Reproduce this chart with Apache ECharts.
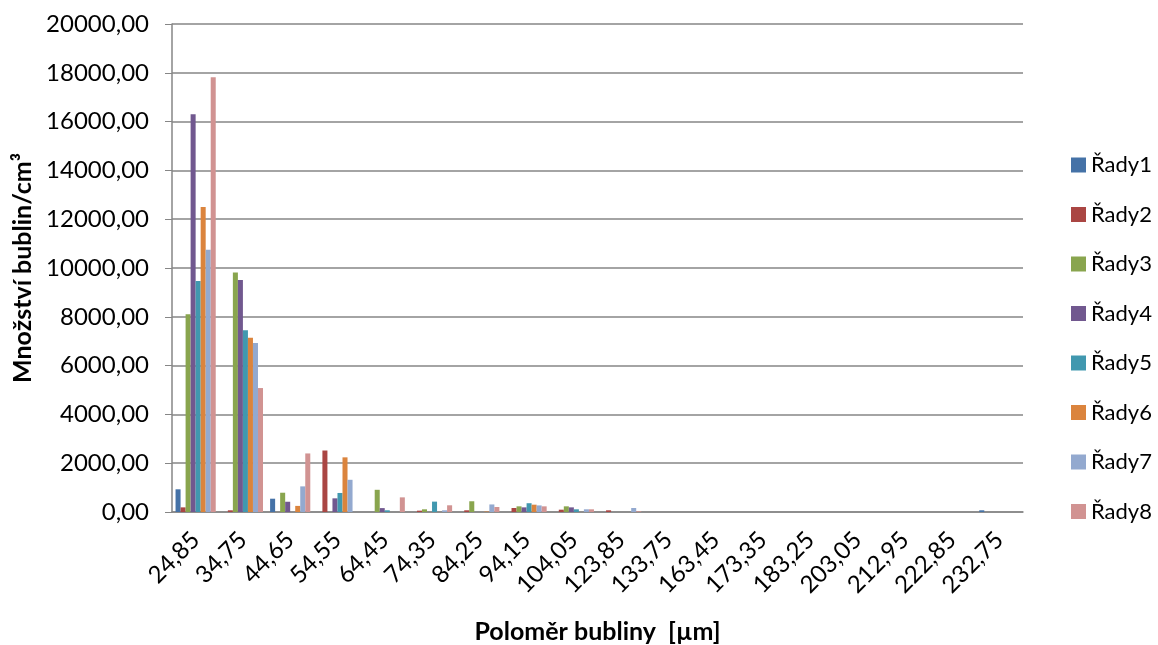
<!DOCTYPE html>
<html>
<head>
<meta charset="utf-8">
<script src="https://cdn.jsdelivr.net/npm/echarts@6/dist/echarts.min.js"></script>
<style>
  html, body { margin: 0; padding: 0; background: #fff; }
  #chart { width: 1158px; height: 645px; }
</style>
</head>
<body>
<div id="chart"></div>
<script>
  // x categories (polomer bubliny)
  var categories = ['24,85', '34,75', '44,65', '54,55', '64,45', '74,35', '84,25', '94,15', '104,05',
    '123,85', '133,75', '163,45', '173,35', '183,25', '203,05', '212,95', '222,85', '232,75'];

  var seriesNames = ['Řady1', 'Řady2', 'Řady3', 'Řady4', 'Řady5', 'Řady6', 'Řady7', 'Řady8'];

  var rady1 = [930, 0, 545, 0, 0, 0, 0, 0, 0, 0, 0, 0, 0, 0, 0, 0, 0, 70];
  var rady2 = [190, 70, 0, 2520, 0, 55, 70, 165, 95, 70, 0, 0, 0, 0, 0, 0, 0, 0];
  var rady3 = [8100, 9820, 790, 0, 910, 110, 440, 232, 232, 0, 0, 0, 0, 0, 0, 0, 0, 0];
  var rady4 = [16300, 9510, 420, 560, 160, 0, 0, 190, 190, 0, 0, 0, 0, 0, 0, 0, 0, 0];
  var rady5 = [9470, 7450, 0, 780, 70, 425, 0, 360, 110, 0, 0, 0, 0, 0, 0, 0, 0, 0];
  var rady6 = [12500, 7140, 250, 2240, 0, 0, 20, 300, 0, 0, 0, 0, 0, 0, 0, 0, 0, 0];
  var rady7 = [10750, 6930, 1050, 1320, 0, 70, 310, 270, 110, 165, 0, 0, 0, 0, 0, 0, 0, 0];
  var rady8 = [17820, 5080, 2400, 0, 600, 275, 205, 232, 110, 30, 0, 0, 0, 0, 0, 0, 0, 0];

  var colors = ['#4572A7', '#AA4643', '#89A54E', '#71588F', '#4198AF', '#DB843D', '#93A9CF', '#D19392'];

  var allData = [rady1, rady2, rady3, rady4, rady5, rady6, rady7, rady8];

  var font = 'Lato, "Open Sans", sans-serif';

  var series = seriesNames.map(function (name, i) {
    return {
      name: name,
      type: 'bar',
      data: allData[i],
      barGap: '0%',
      barCategoryGap: '15%',
      itemStyle: { color: colors[i] }
    };
  });

  var myChart = echarts.init(document.getElementById('chart'));

  var option = {
    animation: false,
    color: colors,
    grid: {
      left: 172,
      right: 135,
      top: 24,
      bottom: 133,
      outerBoundsMode: 'none',
      containLabel: false
    },
    legend: {
      orient: 'vertical',
      left: 1066,
      top: 148,
      itemWidth: 15,
      itemHeight: 15,
      itemGap: 25.5,
      icon: 'rect',
      textStyle: { fontFamily: font, fontSize: 22, lineHeight: 24, color: '#000' },
      data: seriesNames
    },
    xAxis: {
      type: 'category',
      data: categories,
      name: 'Poloměr bubliny  [µm]',
      nameLocation: 'middle',
      nameGap: 107,
      nameTextStyle: { fontFamily: font, fontSize: 25, fontWeight: 'bold', color: '#000' },
      axisLine: { lineStyle: { color: '#868686', width: 1.5 } },
      axisTick: { show: false },
      axisLabel: {
        rotate: 45,
        interval: 0,
        margin: 24,
        fontFamily: font,
        fontSize: 24,
        color: '#000'
      }
    },
    yAxis: {
      type: 'value',
      min: 0,
      max: 20000,
      interval: 2000,
      name: 'Množství bublin/cm³',
      nameLocation: 'middle',
      nameGap: 128,
      nameTextStyle: { fontFamily: font, fontSize: 25, fontWeight: 'bold', color: '#000' },
      axisLine: { show: true, lineStyle: { color: '#868686', width: 1.5 } },
      axisTick: { show: true, inside: false, length: 7, lineStyle: { color: '#868686' } },
      splitLine: { lineStyle: { color: '#868686', width: 1.5 } },
      axisLabel: {
        margin: 23,
        fontFamily: font,
        fontSize: 24,
        color: '#000',
        formatter: function (v) { return v.toFixed(2).replace('.', ','); }
      }
    },
    series: series
  };

  myChart.setOption(option);
</script>
</body>
</html>
